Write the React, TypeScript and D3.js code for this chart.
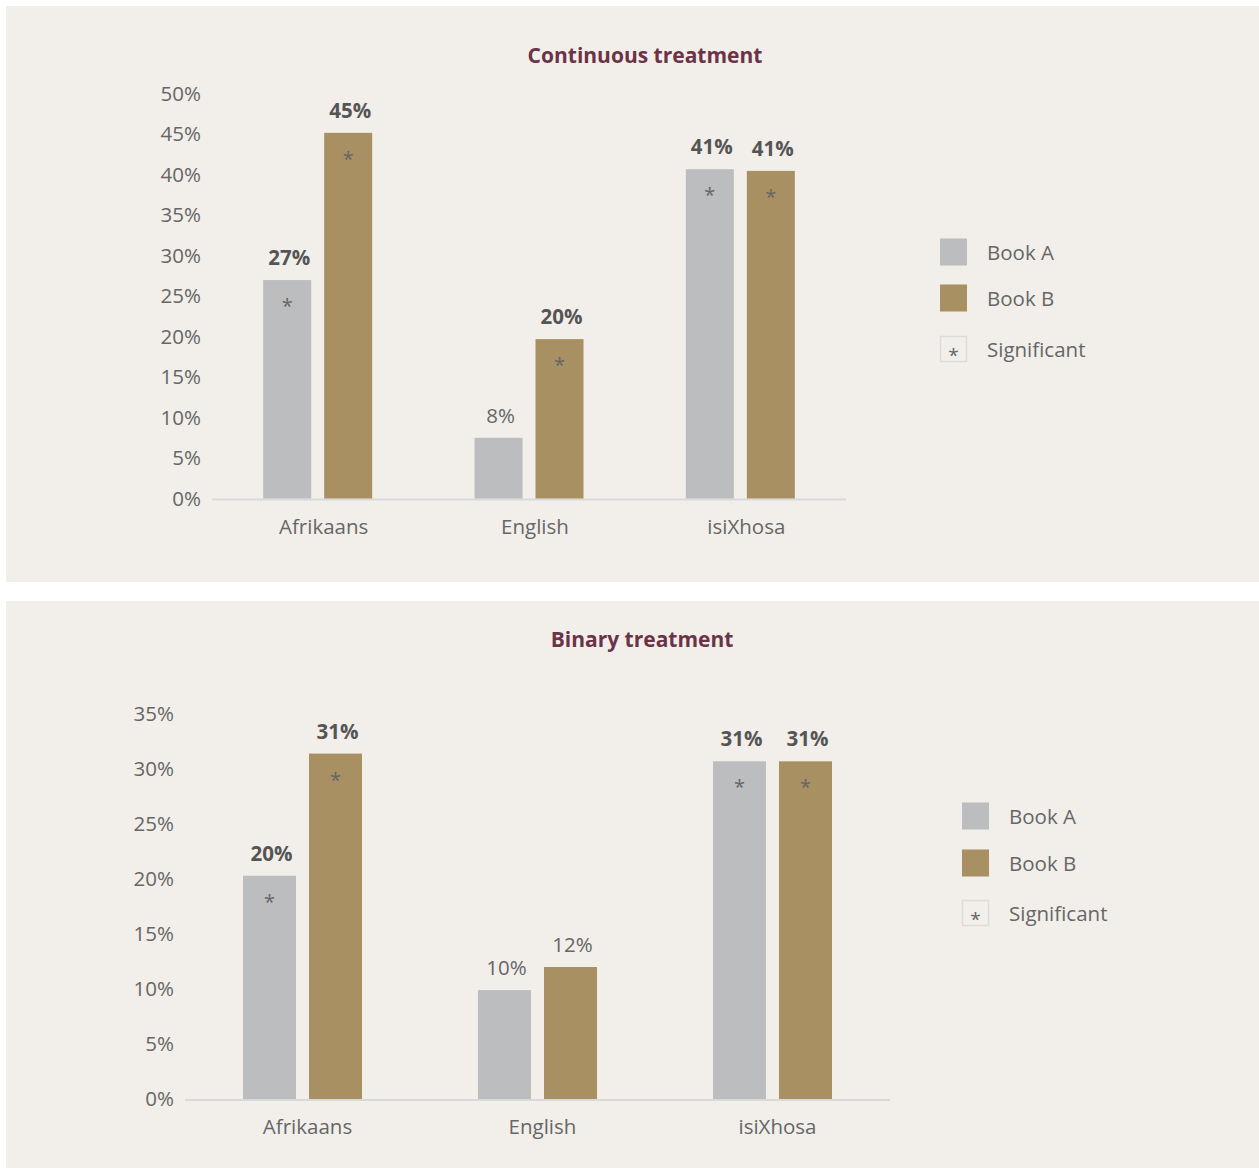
import React from "react";
import * as d3 from "d3";

const categories = ["Afrikaans", "English", "isiXhosa"];
const seriesNames = ["Book A", "Book B"];

const contBookA = [27.0, 7.5, 40.7];
const contBookB = [45.2, 19.7, 40.5];
const contSigA = [true, false, true];
const contSigB = [true, true, true];
const contTicks = [0, 5, 10, 15, 20, 25, 30, 35, 40, 45, 50];

const binBookA = [20.3, 9.9, 30.7];
const binBookB = [31.4, 12.0, 30.7];
const binSigA = [true, false, true];
const binSigB = [true, false, true];
const binTicks = [0, 5, 10, 15, 20, 25, 30, 35];

const COLORS = ["#bcbdbf", "#a89063"];
const BG = "#f2efea";
const FONT = "'Open Sans', Lato, sans-serif";
const FS = 20.5;

type PanelProps = {
  title: string;
  a: number[];
  b: number[];
  sigA: boolean[];
  sigB: boolean[];
  ticks: number[];
  top: number;
  height: number;
  titleX: number;
  titleY: number;
  x0: number; x1: number;
  y0: number; yMaxPx: number; yMax: number;
  barW: number; gap: number;
  tickX: number;
  catLabelY: number;
  catOffset: number;
  legendX: number; legendYs: number[];
};

function Panel(p: PanelProps) {
  const x = d3.scaleBand<string>().domain(categories).range([p.x0, p.x1]);
  const y = d3.scaleLinear().domain([0, p.yMax]).range([p.y0, p.yMaxPx]);
  const series = [p.a, p.b];
  const sigs = [p.sigA, p.sigB];
  return (
    <g>
      <rect x={6} y={p.top} width={1253} height={p.height} fill={BG} />
      <text x={p.titleX} y={p.titleY} textAnchor="middle" dominantBaseline="central"
        fontFamily={FONT} fontWeight={700} fontSize={21} fill="#6b3347">{p.title}</text>
      {p.ticks.map((t) => (
        <text key={t} x={p.tickX} y={y(t) - 1} textAnchor="end" dominantBaseline="central"
          fontFamily={FONT} fontSize={FS} fill="#666">{t}%</text>
      ))}
      <line x1={p.x0} x2={p.x1} y1={p.y0 + 1} y2={p.y0 + 1} stroke="#d9d9d9" strokeWidth={2} />
      {categories.map((c, ci) => {
        const cx = (x(c) as number) + x.bandwidth() / 2;
        return (
          <g key={c}>
            {series.map((s, si) => {
              const bx = si === 0 ? cx - p.gap / 2 - p.barW : cx + p.gap / 2;
              const v = s[ci];
              const sig = sigs[si][ci];
              return (
                <g key={si}>
                  <rect x={bx} y={y(v)} width={p.barW} height={p.y0 - y(v)} fill={COLORS[si]} />
                  <text x={bx + p.barW / 2 + 2} y={y(v) - 23} textAnchor="middle" dominantBaseline="central"
                    fontFamily={FONT} fontSize={FS} fontWeight={sig ? 700 : 400} fill={sig ? "#555" : "#666"}>
                    {Math.round(v)}%
                  </text>
                  {sig && (
                    <text x={bx + p.barW / 2} y={y(v) + 33} textAnchor="middle"
                      fontFamily={FONT} fontSize={20} fill="#666">*</text>
                  )}
                </g>
              );
            })}
            <text x={cx + p.catOffset} y={p.catLabelY} textAnchor="middle" dominantBaseline="central"
              fontFamily={FONT} fontSize={FS} fill="#666">{c}</text>
          </g>
        );
      })}
      {seriesNames.map((n, i) => (
        <g key={n}>
          <rect x={p.legendX} y={p.legendYs[i] - 13.5} width={27} height={27} fill={COLORS[i]} />
          <text x={p.legendX + 47} y={p.legendYs[i]} dominantBaseline="central"
            fontFamily={FONT} fontSize={FS} fill="#666">{n}</text>
        </g>
      ))}
      <rect x={p.legendX + 0.5} y={p.legendYs[2] - 12.5} width={26} height={25} fill="none" stroke="#dcdcdc" strokeWidth={1.5} />
      <text x={p.legendX + 13.5} y={p.legendYs[2] + 13} textAnchor="middle" fontFamily={FONT} fontSize={19} fill="#666">*</text>
      <text x={p.legendX + 47} y={p.legendYs[2]} dominantBaseline="central"
        fontFamily={FONT} fontSize={FS} fill="#666">Significant</text>
    </g>
  );
}

export default function App() {
  return (
    <svg width={1259} height={1168} style={{ position: "absolute", left: 0, top: 0, background: "#fff" }}>
      <Panel title="Continuous treatment" a={contBookA} b={contBookB} sigA={contSigA} sigB={contSigB}
        ticks={contTicks} top={6} height={576} titleX={645} titleY={55}
        x0={212} x1={846} y0={498.5} yMaxPx={94} yMax={50} barW={48} gap={13}
        tickX={201} catLabelY={526} catOffset={6}
        legendX={940} legendYs={[252, 298, 349]} />
      <Panel title="Binary treatment" a={binBookA} b={binBookB} sigA={binSigA} sigB={binSigB}
        ticks={binTicks} top={601} height={567} titleX={642} titleY={639}
        x0={185} x1={890} y0={1099} yMaxPx={714} yMax={35} barW={53} gap={13}
        tickX={174} catLabelY={1126} catOffset={5}
        legendX={962} legendYs={[816, 863, 913]} />
    </svg>
  );
}
